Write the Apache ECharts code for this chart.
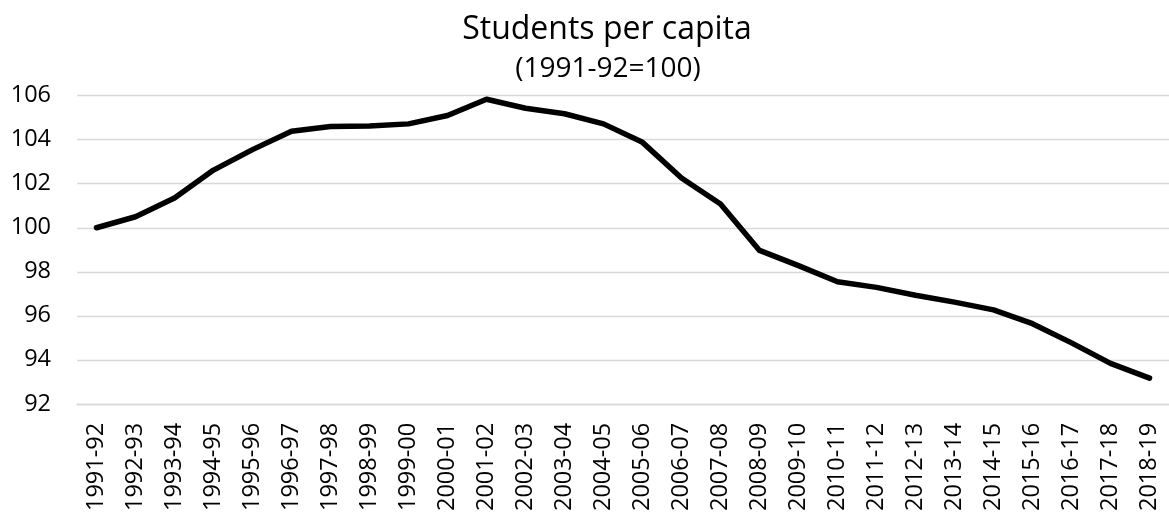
<!DOCTYPE html>
<html>
<head>
<meta charset="utf-8">
<script src="https://cdn.jsdelivr.net/npm/echarts@6/dist/echarts.min.js"></script>
<style>
  html, body { margin: 0; padding: 0; background: #fff; }
  #chart { width: 1169px; height: 514px; }
</style>
</head>
<body>
<div id="chart"></div>
<script>
// 学年
const years = [
  '1991-92', '1992-93', '1993-94', '1994-95', '1995-96', '1996-97', '1997-98',
  '1998-99', '1999-00', '2000-01', '2001-02', '2002-03', '2003-04', '2004-05',
  '2005-06', '2006-07', '2007-08', '2008-09', '2009-10', '2010-11', '2011-12',
  '2012-13', '2013-14', '2014-15', '2015-16', '2016-17', '2017-18', '2018-19'
]
// 人均学生指数 (1991-92=100)
const studentsIndex = [
  100.0, 100.5, 101.35, 102.62, 103.55, 104.38, 104.6,
  104.62, 104.72, 105.1, 105.84, 105.43, 105.18, 104.72,
  103.88, 102.26, 101.08, 98.97, 98.28, 97.55, 97.29,
  96.93, 96.62, 96.27, 95.64, 94.77, 93.84, 93.17
]
const yTicks = { min: 92, max: 106, step: 2 }

const font = 'Open Sans'
const myChart = echarts.init(document.getElementById('chart'))
myChart.setOption({
  backgroundColor: '#ffffff',
  animation: false,
  title: [
    {
      text: 'Students per capita',
      left: 602,
      top: 9,
      textAlign: 'center',
      textStyle: { fontFamily: font, fontSize: 32, fontWeight: 'normal', color: '#000' }
    },
    {
      text: '(1991-92=100)',
      left: 603,
      top: 50,
      textAlign: 'center',
      textStyle: { fontFamily: font, fontSize: 28, fontWeight: 'normal', color: '#000' }
    }
  ],
  grid: { left: 77, right: -14, top: 95.7, bottom: 107.3, containLabel: false },
  xAxis: {
    type: 'category',
    data: years,
    boundaryGap: true,
    axisLine: { show: true, lineStyle: { color: '#d9d9d9', width: 1.3 } },
    axisTick: { show: false },
    axisLabel: {
      interval: 0,
      rotate: 90,
      margin: 19,
      fontFamily: font,
      fontSize: 23.5,
      color: '#000'
    }
  },
  yAxis: {
    type: 'value',
    min: yTicks.min,
    max: yTicks.max,
    interval: yTicks.step,
    axisLine: { show: false },
    axisTick: { show: false },
    axisLabel: { margin: 26, fontFamily: font, fontSize: 23.5, color: '#000' },
    splitLine: { lineStyle: { color: '#d9d9d9', width: 1.3 } }
  },
  series: [
    {
      name: 'Students per capita',
      type: 'line',
      data: studentsIndex,
      symbol: 'none',
      smooth: false,
      lineStyle: { color: '#000', width: 5.5, cap: 'round', join: 'round' }
    }
  ]
})
</script>
</body>
</html>
